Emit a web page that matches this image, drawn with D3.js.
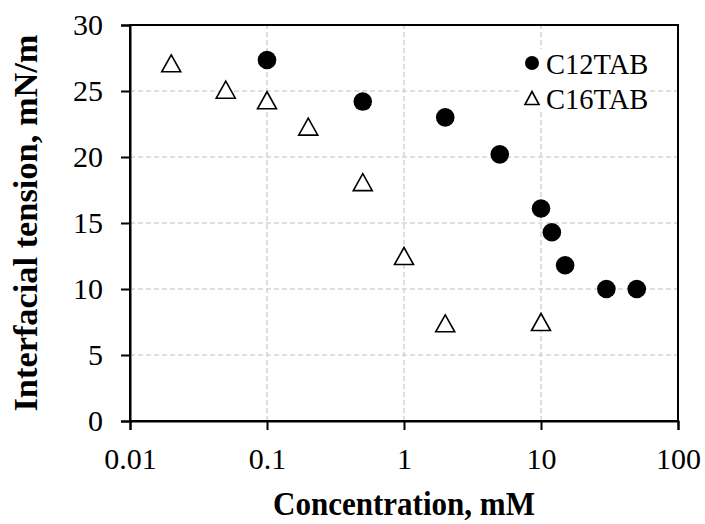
<!DOCTYPE html>
<html>
<head>
<meta charset="utf-8">
<script src="https://cdn.jsdelivr.net/npm/d3@7"></script>
<style>
  body { margin: 0; background: #fff; }
  text { font-family: "Liberation Serif", "Times New Roman", serif; fill: #000; }
</style>
</head>
<body>
<svg id="chart" width="705" height="524"></svg>
<script>
// C12TAB series
let c12Conc = [0.1, 0.5, 2, 5, 10, 12, 15, 30, 50];
let c12Tension = [27.35, 24.2, 23.0, 20.2, 16.1, 14.3, 11.8, 10.0, 10.0];

// C16TAB series
let c16Conc = [0.02, 0.05, 0.1, 0.2, 0.5, 1, 2, 10];
let c16Tension = [27.1, 25.1, 24.3, 22.3, 18.1, 12.5, 7.4, 7.5];

let xTicks = [0.01, 0.1, 1, 10, 100];
let xTickLabels = ['0.01', '0.1', '1', '10', '100'];
let yTicks = [0, 5, 10, 15, 20, 25, 30];

let seriesNames = ['C12TAB', 'C16TAB'];

let margin = {left: 130, top: 25, right: 27, bottom: 103};
let width = 705, height = 524;

let svg = d3.select('#chart');

let x = d3.scaleLog()
  .domain([0.01, 100])
  .range([margin.left, width - margin.right]);

let y = d3.scaleLinear()
  .domain([0, 30])
  .range([height - margin.bottom, margin.top]);

// grid
let grid = svg.append('g').attr('class', 'grid');

grid.selectAll('line.vgrid')
  .data(xTicks.slice(1, -1))
  .enter()
  .append('line')
  .attr('class', 'vgrid')
  .attr('x1', d => x(d))
  .attr('x2', d => x(d))
  .attr('y1', y(0))
  .attr('y2', y(30))
  .style('stroke', '#d4d4d4')
  .style('stroke-width', '1.5px')
  .style('stroke-dasharray', '5,3');

grid.selectAll('line.hgrid')
  .data(yTicks.slice(1, -1))
  .enter()
  .append('line')
  .attr('class', 'hgrid')
  .attr('x1', x(0.01))
  .attr('x2', x(100))
  .attr('y1', d => y(d))
  .attr('y2', d => y(d))
  .style('stroke', '#d4d4d4')
  .style('stroke-width', '1.5px')
  .style('stroke-dasharray', '5,3');

// frame (top and right)
svg.append('rect')
  .attr('x', x(0.01))
  .attr('y', y(30))
  .attr('width', x(100) - x(0.01))
  .attr('height', y(0) - y(30))
  .style('fill', 'none')
  .style('stroke', '#000')
  .style('stroke-width', '2px');

// axes
let xAxis = svg.append('g')
  .attr('transform', `translate(0,${y(0)})`)
  .call(d3.axisBottom(x)
    .tickValues(xTicks)
    .tickFormat((d, i) => xTickLabels[i])
    .tickSize(9)
    .tickPadding(18));

let yAxis = svg.append('g')
  .attr('transform', `translate(${x(0.01)},0)`)
  .call(d3.axisLeft(y)
    .tickValues(yTicks)
    .tickSize(9)
    .tickPadding(18));

[xAxis, yAxis].forEach(ax => {
  ax.attr('font-family', null).attr('font-size', null);
  ax.select('.domain').style('stroke', '#000').style('stroke-width', '2px');
  ax.selectAll('.tick line').style('stroke', '#000').style('stroke-width', '2px');
  ax.selectAll('.tick text')
    .style('font-family', '"Liberation Serif", "Times New Roman", serif')
    .style('font-size', '30px')
    .style('fill', '#000');
});

// axis titles
svg.append('text')
  .attr('x', (x(0.01) + x(100)) / 2)
  .attr('y', 515)
  .attr('text-anchor', 'middle')
  .attr('textLength', 262)
  .attr('lengthAdjust', 'spacingAndGlyphs')
  .style('font-size', '33px')
  .style('font-weight', 'bold')
  .text('Concentration, mM');

svg.append('text')
  .attr('transform', `translate(37,${(y(0) + y(30)) / 2}) rotate(-90)`)
  .attr('text-anchor', 'middle')
  .attr('textLength', 377)
  .attr('lengthAdjust', 'spacingAndGlyphs')
  .style('font-size', '34px')
  .style('font-weight', 'bold')
  .text('Interfacial tension, mN/m');

function trianglePath(w, h) {
  return `M0,${-h / 2}L${w / 2},${h / 2}L${-w / 2},${h / 2}Z`;
}

let c12Data = c12Conc.map((d, i) => ({conc: d, tension: c12Tension[i]}));
let c16Data = c16Conc.map((d, i) => ({conc: d, tension: c16Tension[i]}));

// C16TAB triangles
svg.selectAll('path.c16')
  .data(c16Data)
  .enter()
  .append('path')
  .attr('class', 'c16')
  .attr('d', trianglePath(19, 17))
  .attr('transform', d => `translate(${x(d.conc)},${y(d.tension)})`)
  .style('fill', '#fff')
  .style('stroke', '#000')
  .style('stroke-width', '1.6px')
  .style('stroke-linejoin', 'miter');

// C12TAB circles
svg.selectAll('circle.c12')
  .data(c12Data)
  .enter()
  .append('circle')
  .attr('class', 'c12')
  .attr('cx', d => x(d.conc))
  .attr('cy', d => y(d.tension))
  .attr('r', 9.3)
  .style('fill', '#000');

// legend
let legend = svg.append('g').attr('transform', 'translate(532,63)');

legend.append('rect')
  .attr('x', -10)
  .attr('y', -14)
  .attr('width', 126)
  .attr('height', 62)
  .style('fill', '#fff');

legend.append('circle')
  .attr('cx', 0)
  .attr('cy', 0)
  .attr('r', 7)
  .style('fill', '#000');

legend.append('path')
  .attr('d', trianglePath(14, 13))
  .attr('transform', 'translate(0,35)')
  .style('fill', '#fff')
  .style('stroke', '#000')
  .style('stroke-width', '1.6px');

legend.selectAll('text.leg')
  .data(seriesNames)
  .enter()
  .append('text')
  .attr('class', 'leg')
  .attr('x', 14)
  .attr('y', (d, i) => 11 + i * 35)
  .style('font-size', '28.5px')
  .text(d => d);
</script>
</body>
</html>
